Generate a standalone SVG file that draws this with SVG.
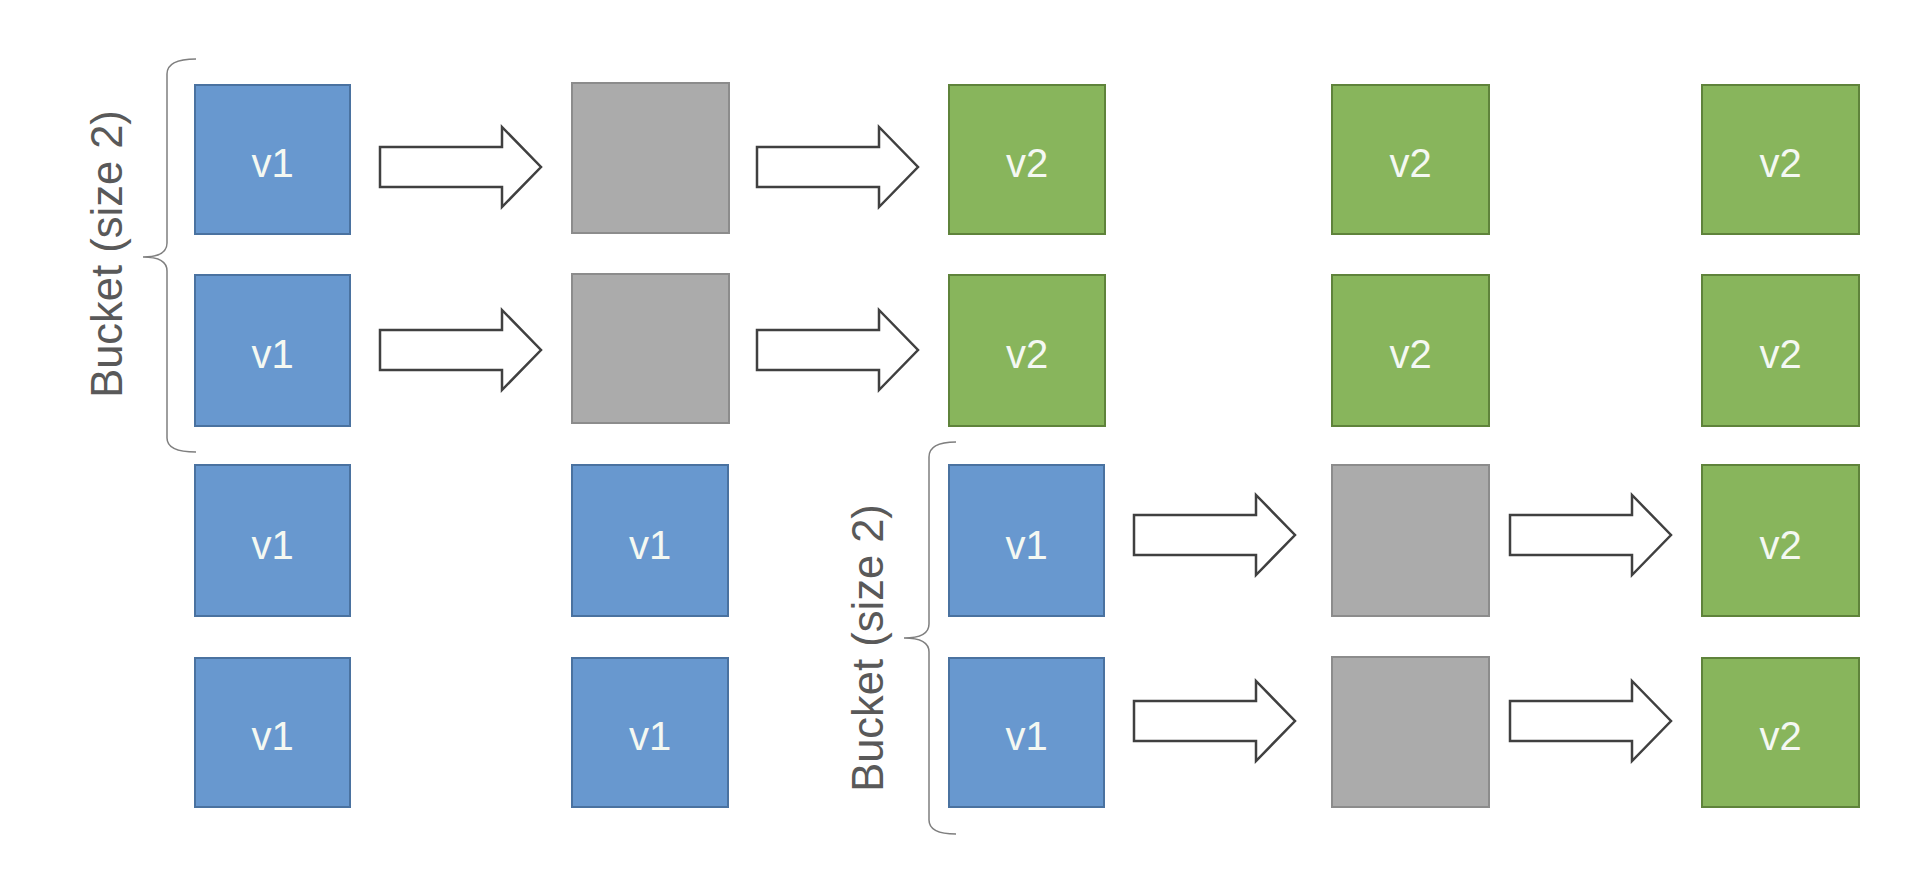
<svg xmlns="http://www.w3.org/2000/svg" width="1920" height="874" viewBox="0 0 1920 874">
<style>
.blue{fill:#6898cf;stroke:#4a72a0;stroke-width:2}
.green{fill:#88b55c;stroke:#5f833b;stroke-width:2}
.gray{fill:#ababab;stroke:#8c8c8c;stroke-width:2}
.lbl{font-family:"Liberation Sans",Arial,sans-serif;font-size:40px;fill:#f4f8f2;text-anchor:middle}
.arrow{fill:#ffffff;stroke:#404040;stroke-width:2.5;stroke-linejoin:miter}
.brace{fill:none;stroke:#7f7f7f;stroke-width:1.5}
.bucket{font-family:"Liberation Sans",Arial,sans-serif;font-size:43.5px;fill:#595959;text-anchor:middle}
</style>
<defs>
<path id="arr" class="arrow" d="M0,-20 L122,-20 L122,-40 L161,0 L122,40 L122,20 L0,20 Z"/>
</defs>
<rect width="1920" height="874" fill="#ffffff"/>

<g id="bucket1">
<path class="brace" d="M196,59 Q167,59 167,74 L167,243 Q167,257 143,257 Q167,257 167,271 L167,438 Q167,452 196,452"/>
<text class="bucket" transform="translate(122,254) rotate(-90)">Bucket (size 2)</text>
</g>
<g id="bucket2">
<path class="brace" d="M956,442 Q929,442 929,457 L929,624 Q929,638 904,638 Q929,638 929,652 L929,820 Q929,834 956,834"/>
<text class="bucket" transform="translate(883,648) rotate(-90)">Bucket (size 2)</text>
</g>

<g id="r1c1"><rect class="blue" x="195" y="85" width="155" height="149"/><text class="lbl" x="272.5" y="177">v1</text></g>
<g id="r2c1"><rect class="blue" x="195" y="275" width="155" height="151"/><text class="lbl" x="272.5" y="368">v1</text></g>
<g id="r3c1"><rect class="blue" x="195" y="465" width="155" height="151"/><text class="lbl" x="272.5" y="559">v1</text></g>
<g id="r4c1"><rect class="blue" x="195" y="658" width="155" height="149"/><text class="lbl" x="272.5" y="750">v1</text></g>

<g id="r1c2"><rect class="gray" x="572" y="83" width="157" height="150"/></g>
<g id="r2c2"><rect class="gray" x="572" y="274" width="157" height="149"/></g>
<g id="r3c2"><rect class="blue" x="572" y="465" width="156" height="151"/><text class="lbl" x="650" y="559">v1</text></g>
<g id="r4c2"><rect class="blue" x="572" y="658" width="156" height="149"/><text class="lbl" x="650" y="750">v1</text></g>

<g id="r1c3"><rect class="green" x="949" y="85" width="156" height="149"/><text class="lbl" x="1027" y="177">v2</text></g>
<g id="r2c3"><rect class="green" x="949" y="275" width="156" height="151"/><text class="lbl" x="1027" y="368">v2</text></g>
<g id="r3c3"><rect class="blue" x="949" y="465" width="155" height="151"/><text class="lbl" x="1026.5" y="559">v1</text></g>
<g id="r4c3"><rect class="blue" x="949" y="658" width="155" height="149"/><text class="lbl" x="1026.5" y="750">v1</text></g>

<g id="r1c4"><rect class="green" x="1332" y="85" width="157" height="149"/><text class="lbl" x="1410.5" y="177">v2</text></g>
<g id="r2c4"><rect class="green" x="1332" y="275" width="157" height="151"/><text class="lbl" x="1410.5" y="368">v2</text></g>
<g id="r3c4"><rect class="gray" x="1332" y="465" width="157" height="151"/></g>
<g id="r4c4"><rect class="gray" x="1332" y="657" width="157" height="150"/></g>

<g id="r1c5"><rect class="green" x="1702" y="85" width="157" height="149"/><text class="lbl" x="1780.5" y="177">v2</text></g>
<g id="r2c5"><rect class="green" x="1702" y="275" width="157" height="151"/><text class="lbl" x="1780.5" y="368">v2</text></g>
<g id="r3c5"><rect class="green" x="1702" y="465" width="157" height="151"/><text class="lbl" x="1780.5" y="559">v2</text></g>
<g id="r4c5"><rect class="green" x="1702" y="658" width="157" height="149"/><text class="lbl" x="1780.5" y="750">v2</text></g>

<g id="connectors">
<use href="#arr" x="380" y="167"/>
<use href="#arr" x="757" y="167"/>
<use href="#arr" x="380" y="350"/>
<use href="#arr" x="757" y="350"/>
<use href="#arr" x="1134" y="535"/>
<use href="#arr" x="1510" y="535"/>
<use href="#arr" x="1134" y="721"/>
<use href="#arr" x="1510" y="721"/>
</g>
</svg>
